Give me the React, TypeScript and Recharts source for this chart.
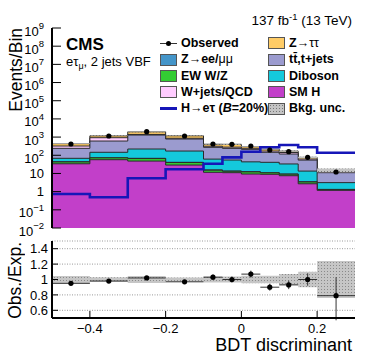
import React from "react";
import { Area, CartesianGrid, ComposedChart, ErrorBar, Line, Scatter, XAxis, YAxis } from "recharts";

const FONT = '"Liberation Sans", Arial, Helvetica, sans-serif';

// binning (BDT discriminant)
const binEdges = [-0.5, -0.4, -0.3, -0.2, -0.1, -0.05, 0, 0.05, 0.1, 0.15, 0.2, 0.3];
const binCenters = [-0.45, -0.35, -0.25, -0.15, -0.075, -0.025, 0.025, 0.075, 0.125, 0.175, 0.25];
const binHalfWidths = [0.05, 0.05, 0.05, 0.05, 0.025, 0.025, 0.025, 0.025, 0.025, 0.025, 0.05];

// background processes, events per bin (stacked bottom -> top)
const smH = [34, 57, 48, 29, 11.6, 11, 9.3, 9.0, 7.5, 2.7, 1.18];
const ewWZ = [9, 15, 18, 11, 3.5, 2.2, 2.9, 1.8, 1.6, 0.7, 0.12];
const zee = [1, 1, 2, 1, 0.5, 0.4, 0.3, 0.2, 0.2, 0.1, 0.03];
const diboson = [24, 73, 153, 130, 46, 41, 31, 30, 24, 10, 1.8];
const ttbar = [173, 462, 1079, 613, 212, 186, 169, 105, 84, 41, 7.9];
const wjets = [82, 317, 100, 80, 40, 40, 30, 25, 25, 8, 1.5];
const ztt = [115, 245, 540, 316, 90, 120, 59, 46, 27, 14, 2.7];
const bkgUnc = [0.045, 0.03, 0.045, 0.025, 0.04, 0.04, 0.05, 0.05, 0.07, 0.1, 0.24];

const signal = [0.74, 0.49, 5.4, 17, 34, 77, 157, 274, 367, 274, 137];
const observed = [416, 1146, 1977, 1146, 416, 401, 323, 195, 157, 77, 12];

// ratio panel
const ratio = [0.95, 0.98, 1.02, 0.97, 1.03, 1.0, 1.07, 0.9, 0.93, 1.0, 0.79];
const ratioErrLo = [0.02, 0.02, 0.015, 0.02, 0.035, 0.04, 0.045, 0.045, 0.055, 0.08, 0.32];
const ratioErrHi = [0.02, 0.02, 0.015, 0.02, 0.035, 0.04, 0.045, 0.045, 0.055, 0.08, 0.24];

// axis ticks
const logTicks = [1e-2, 1e-1, 1, 10, 1e2, 1e3, 1e4, 1e5, 1e6, 1e7, 1e8, 1e9];
const logTickLabels = [
  ["10", "\u22122"], ["10", "\u22121"], ["1", ""], ["10", ""], ["10", "2"], ["10", "3"],
  ["10", "4"], ["10", "5"], ["10", "6"], ["10", "7"], ["10", "8"], ["10", "9"],
];
const xMajor = [-0.4, -0.2, 0, 0.2];
const xMajorLabels = ["\u22120.4", "\u22120.2", "0", "0.2"];
const xMinor = [-0.5, -0.45, -0.4, -0.35, -0.3, -0.25, -0.2, -0.15, -0.1, -0.05, 0, 0.05, 0.1, 0.15, 0.2, 0.25, 0.3];
const ratioTicks = [0.6, 0.8, 1, 1.2, 1.4];
const ratioTickLabels = ["0.6", "0.8", "1", "1.2", "1.4"];

const logMinor: number[] = [];
for (let e = -2; e < 9; e++) for (let m = 2; m < 10; m++) logMinor.push(m * Math.pow(10, e));

const stackKeys = ["smH", "ewWZ", "zee", "diboson", "ttbar", "wjets", "ztt"];
const stackValues = [smH, ewWZ, zee, diboson, ttbar, wjets, ztt];
const stackColors: Record<string, string> = {
  smH: "#c23fc9",
  ewWZ: "#33cc33",
  zee: "#4495c9",
  diboson: "#14c9dc",
  ttbar: "#9b9bcf",
  wjets: "#ffccff",
  ztt: "#ffcc66",
};

const nBins = binCenters.length;
const histRows = binEdges.map((x, i) => {
  const b = Math.min(i, nBins - 1);
  const row: Record<string, any> = { x };
  let cum = 0;
  stackKeys.forEach((k, j) => {
    cum += stackValues[j][b];
    row[k] = cum;
  });
  row.unc = [cum * (1 - bkgUnc[b]), cum * (1 + bkgUnc[b])];
  row.signal = signal[b];
  return row;
});
const obsPoints = binCenters.map((x, i) => ({ x, y: observed[i] }));
const ratioBand = binEdges.map((x, i) => {
  const b = Math.min(i, nBins - 1);
  return { x, band: [1 - bkgUnc[b], 1 + bkgUnc[b]] };
});
const ratioPoints = binCenters.map((x, i) => ({
  x,
  y: ratio[i],
  xerr: binHalfWidths[i],
  yerr: [ratioErrLo[i], ratioErrHi[i]],
}));

const frame = { stroke: "#000", strokeWidth: 2 };
const tickStyle = { stroke: "#000", strokeWidth: 1 };

function LogTick(props: any) {
  const { x, y, payload } = props;
  const i = logTicks.indexOf(payload.value);
  const [base, exp] = logTickLabels[i] ?? ["", ""];
  if (!exp) {
    return (
      <text x={x} y={y + 4.5} textAnchor="end" fontSize={13} fill="#000" fontFamily={FONT}>
        {base}
      </text>
    );
  }
  return (
    <text x={x} y={y + 7.5} textAnchor="end" fontSize={13} fill="#000" fontFamily={FONT}>
      {base}
      <tspan dy={-6.5} fontSize={9.5}>{exp}</tspan>
    </text>
  );
}

const dot = (p: any) => <circle cx={p.cx} cy={p.cy} r={2.6} fill="#000" />;

function MainChart() {
  const logAxis = { type: "number" as const, scale: "log" as const, domain: [0.01, 1e9], allowDataOverflow: true, interval: 0 as const };
  const xAx = { type: "number" as const, dataKey: "x", domain: [-0.5, 0.3], allowDataOverflow: true, interval: 0 as const };
  return (
    <ComposedChart width={374} height={240} margin={{ top: 28, right: 19, bottom: 12, left: 0 }}>
      <defs>
        <pattern id="mainHatch" width="3" height="3" patternUnits="userSpaceOnUse">
          <rect width="3" height="3" fill="#c4c4c4" />
          <rect width="1" height="1" fill="#777" />
        </pattern>
      </defs>
      <XAxis xAxisId={0} {...xAx} ticks={xMajor} orientation="bottom" mirror height={0} tick={false} tickSize={6} axisLine={frame} tickLine={tickStyle} />
      <XAxis xAxisId="bm" {...xAx} ticks={xMinor} orientation="bottom" mirror height={0} tick={false} tickSize={3} axisLine={false} tickLine={tickStyle} />
      <XAxis xAxisId="t" {...xAx} ticks={xMajor} orientation="top" mirror height={0} tick={false} tickSize={6} axisLine={frame} tickLine={tickStyle} />
      <XAxis xAxisId="tm" {...xAx} ticks={xMinor} orientation="top" mirror height={0} tick={false} tickSize={3} axisLine={false} tickLine={tickStyle} />
      <YAxis yAxisId={0} {...logAxis} ticks={logTicks} width={52} tickSize={-9} tickMargin={17} tick={<LogTick />} axisLine={frame} tickLine={tickStyle} />
      <YAxis yAxisId="lm" {...logAxis} ticks={logMinor} mirror width={0} tick={false} tickSize={5} axisLine={false} tickLine={tickStyle} />
      <YAxis yAxisId="r" {...logAxis} ticks={logTicks} orientation="right" mirror width={0} tick={false} tickSize={9} axisLine={frame} tickLine={tickStyle} />
      <YAxis yAxisId="rm" {...logAxis} ticks={logMinor} orientation="right" mirror width={0} tick={false} tickSize={5} axisLine={false} tickLine={tickStyle} />
      {[...stackKeys].reverse().map((k) => (
        <Area
          key={k}
          data={histRows}
          dataKey={k}
          type="stepAfter"
          baseValue="dataMin"
          fill={stackColors[k]}
          fillOpacity={1}
          stroke="#2a2a2a"
          strokeWidth={1}
          isAnimationActive={false}
        />
      ))}
      <Area data={histRows} dataKey="unc" type="stepAfter" fill="url(#mainHatch)" fillOpacity={1} stroke="none" isAnimationActive={false} />
      <Line data={histRows} dataKey="signal" type="stepAfter" stroke="#1616b8" strokeWidth={2.6} dot={false} isAnimationActive={false} />
      <Scatter data={obsPoints} dataKey="y" shape={dot} isAnimationActive={false} />
    </ComposedChart>
  );
}

function RatioChart() {
  const yAx = { type: "number" as const, domain: [0.5, 1.5], allowDataOverflow: true, interval: 0 as const, ticks: ratioTicks };
  const xAx = { type: "number" as const, dataKey: "x", domain: [-0.5, 0.3], allowDataOverflow: true, interval: 0 as const };
  return (
    <ComposedChart width={374} height={131} margin={{ top: 9, right: 19, bottom: 25, left: 0 }}>
      <defs>
        <pattern id="ratioHatch" width="3" height="3" patternUnits="userSpaceOnUse">
          <rect width="3" height="3" fill="#c6c6c6" />
          <rect width="1" height="1" fill="#8a8a8a" />
        </pattern>
      </defs>
      <CartesianGrid vertical={false} stroke="#9a9a9a" strokeDasharray="1 1.5" />
      <XAxis
        xAxisId={0}
        {...xAx}
        ticks={xMajor}
        height={20}
        tickSize={-7}
        tickMargin={13}
        tickFormatter={(v: number) => xMajorLabels[xMajor.indexOf(v)] ?? ""}
        tick={{ fontSize: 13, fill: "#000", fontFamily: FONT }}
        axisLine={frame}
        tickLine={tickStyle}
      />
      <XAxis xAxisId="bm" {...xAx} ticks={xMinor} mirror height={0} tick={false} tickSize={4} axisLine={false} tickLine={tickStyle} />
      <XAxis xAxisId="t" {...xAx} ticks={xMajor} orientation="top" mirror height={0} tick={false} tickSize={7} axisLine={frame} tickLine={tickStyle} />
      <XAxis xAxisId="tm" {...xAx} ticks={xMinor} orientation="top" mirror height={0} tick={false} tickSize={4} axisLine={false} tickLine={tickStyle} />
      <YAxis
        yAxisId={0}
        {...yAx}
        width={52}
        tickSize={-6}
        tickMargin={10}
        tickFormatter={(v: number) => ratioTickLabels[ratioTicks.indexOf(v)] ?? ""}
        tick={{ fontSize: 13, fill: "#000", fontFamily: FONT }}
        axisLine={frame}
        tickLine={tickStyle}
      />
      <YAxis yAxisId="r" {...yAx} orientation="right" mirror width={0} tick={false} tickSize={6} axisLine={frame} tickLine={tickStyle} />
      <Area data={ratioBand} dataKey="band" type="stepAfter" fill="url(#ratioHatch)" fillOpacity={1} stroke="none" isAnimationActive={false} />
      <Scatter data={ratioPoints} dataKey="y" shape={dot} isAnimationActive={false}>
        <ErrorBar dataKey="xerr" direction="x" width={0} stroke="#333" strokeWidth={1} isAnimationActive={false} />
        <ErrorBar dataKey="yerr" direction="y" width={0} stroke="#333" strokeWidth={1} isAnimationActive={false} />
      </Scatter>
    </ComposedChart>
  );
}

const swatch = (bg: string) => ({
  position: "absolute" as const,
  width: 15,
  height: 10,
  background: bg,
  border: "1px solid #555",
});

function LegendEntry({ left, cy, kind, color, children }: { left: number; cy: number; kind: string; color: string; children: React.ReactNode }) {
  return (
    <>
      {kind === "box" && <div style={{ ...swatch(color), left, top: cy - 6 }} />}
      {kind === "hatch" && (
        <div
          style={{
            ...swatch("#c4c4c4"),
            left,
            top: cy - 6,
            backgroundImage: "radial-gradient(#777 0.6px, transparent 0.8px)",
            backgroundSize: "3px 3px",
          }}
        />
      )}
      {kind === "line" && <div style={{ position: "absolute", left, top: cy - 1.5, width: 17, height: 3, background: color }} />}
      {kind === "obs" && (
        <>
          <div style={{ position: "absolute", left, top: cy - 0.5, width: 17, height: 1, background: "#333" }} />
          <div style={{ position: "absolute", left: left + 6, top: cy - 2.5, width: 5, height: 5, borderRadius: 3, background: "#000" }} />
        </>
      )}
      <div style={{ position: "absolute", left: left + 21, top: cy - 7.5, fontSize: 12.5, fontWeight: 700, lineHeight: "15px", whiteSpace: "nowrap" }}>
        {children}
      </div>
    </>
  );
}

const rowY = [43.3, 59.6, 76, 92.3, 108.7];

export default function App() {
  return (
    <div style={{ position: "absolute", left: 0, top: 0, width: 374, height: 363, background: "#fff", fontFamily: FONT, color: "#000", overflow: "hidden" }}>
      <div style={{ position: "absolute", left: 0, top: 0 }}>
        <MainChart />
      </div>
      <div style={{ position: "absolute", left: 0, top: 232 }}>
        <RatioChart />
      </div>

      <div style={{ position: "absolute", right: 22, top: 9, fontSize: 13.5, lineHeight: "16px", whiteSpace: "nowrap" }}>
        137 fb<span style={{ fontSize: 9.5, verticalAlign: "5px" }}>-1</span> (13 TeV)
      </div>
      <div style={{ position: "absolute", left: 66, top: 35, fontSize: 17, fontWeight: 700, lineHeight: "19px" }}>CMS</div>
      <div style={{ position: "absolute", left: 66, top: 54, fontSize: 13, lineHeight: "15px", whiteSpace: "nowrap" }}>
        e{"\u03c4"}
        <span style={{ fontSize: 9, verticalAlign: "-3px" }}>{"\u03bc"}</span>, 2 jets VBF
      </div>

      <div
        style={{
          position: "absolute",
          left: 6,
          top: 28,
          fontSize: 17.5,
          lineHeight: "20px",
          writingMode: "vertical-rl",
          transform: "rotate(180deg)",
          whiteSpace: "nowrap",
        }}
      >
        Events/Bin
      </div>
      <div
        style={{
          position: "absolute",
          left: 5,
          top: 242,
          fontSize: 17.5,
          lineHeight: "20px",
          writingMode: "vertical-rl",
          transform: "rotate(180deg)",
          whiteSpace: "nowrap",
        }}
      >
        Obs./Exp.
      </div>
      <div style={{ position: "absolute", right: 22, top: 335, fontSize: 18, lineHeight: "20px", whiteSpace: "nowrap" }}>BDT discriminant</div>

      <LegendEntry left={160} cy={rowY[0]} kind="obs" color="#000">Observed</LegendEntry>
      <LegendEntry left={160} cy={rowY[1]} kind="box" color={stackColors.zee}>
        Z{"\u2192"}ee/<span style={{ fontWeight: 400 }}>{"\u03bc\u03bc"}</span>
      </LegendEntry>
      <LegendEntry left={160} cy={rowY[2]} kind="box" color={stackColors.ewWZ}>EW W/Z</LegendEntry>
      <LegendEntry left={160} cy={rowY[3]} kind="box" color={stackColors.wjets}>W+jets/QCD</LegendEntry>
      <LegendEntry left={160} cy={rowY[4]} kind="line" color="#1616b8">
        H{"\u2192"}e{"\u03c4"} (<i>B</i>=20%)
      </LegendEntry>
      <LegendEntry left={268} cy={rowY[0]} kind="box" color={stackColors.ztt}>
        Z{"\u2192"}<span style={{ fontWeight: 400 }}>{"\u03c4\u03c4"}</span>
      </LegendEntry>
      <LegendEntry left={268} cy={rowY[1]} kind="box" color={stackColors.ttbar}>
        t{"t\u0304"},t+jets
      </LegendEntry>
      <LegendEntry left={268} cy={rowY[2]} kind="box" color={stackColors.diboson}>Diboson</LegendEntry>
      <LegendEntry left={268} cy={rowY[3]} kind="box" color={stackColors.smH}>SM H</LegendEntry>
      <LegendEntry left={268} cy={rowY[4]} kind="hatch" color="#c4c4c4">Bkg. unc.</LegendEntry>
    </div>
  );
}
